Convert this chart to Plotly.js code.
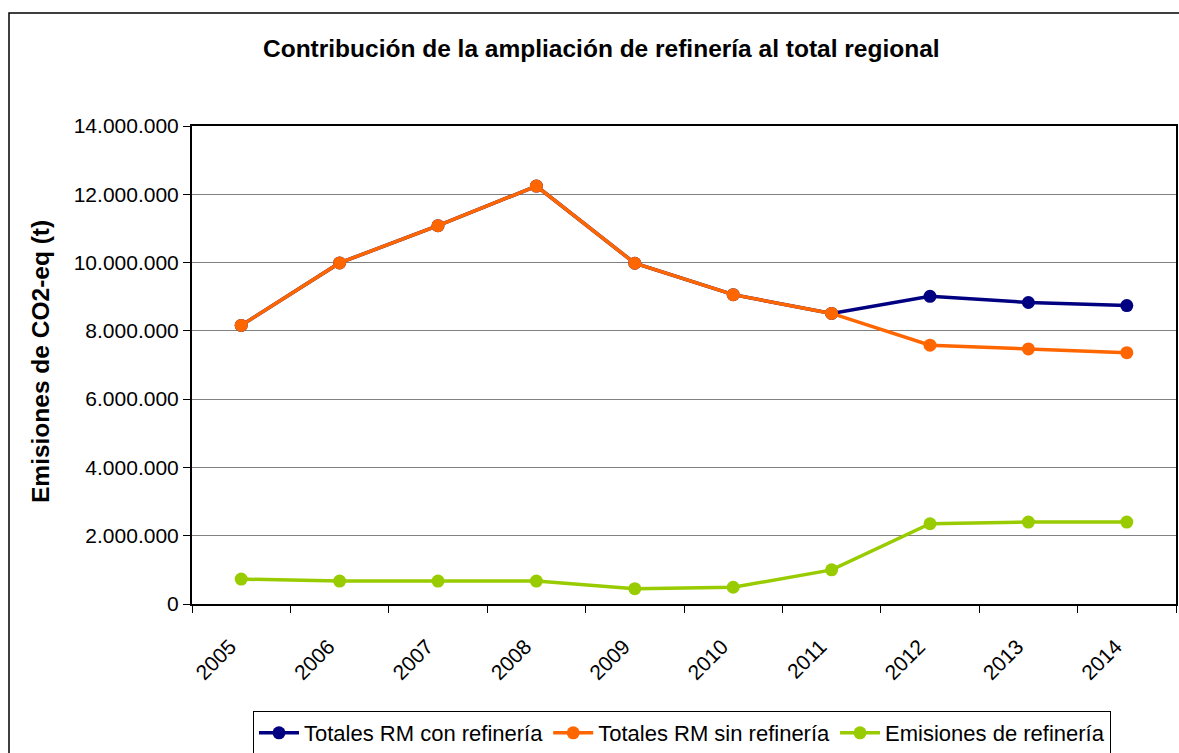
<!DOCTYPE html>
<html>
<head>
<meta charset="utf-8">
<script src="https://cdn.plot.ly/plotly-3.0.1.min.js"></script>
<style>html,body{margin:0;padding:0;background:#fff;}#chart{width:1179px;height:753px;}</style>
</head>
<body>
<div id="chart"></div>
<script>
const years = ["2005","2006","2007","2008","2009","2010","2011","2012","2013","2014"];
const conRefineria = [8160000, 9990000, 11080000, 12240000, 9980000, 9060000, 8510000, 9010000, 8830000, 8740000];
const sinRefineria = [8160000, 9990000, 11080000, 12240000, 9980000, 9060000, 8510000, 7580000, 7470000, 7360000];
const emisionesRefineria = [730000, 670000, 670000, 670000, 450000, 490000, 1000000, 2350000, 2400000, 2400000];
const seriesNames = ["Totales RM con refinería", "Totales RM sin refinería", "Emisiones de refinería"];
const seriesColors = ["#000080", "#FF6600", "#99CC00"];
const chartTitle = "Contribución de la ampliación de refinería al total regional";
const yTitle = "Emisiones de CO2-eq (t)";

const W = 1179, H = 753;
const M = {l: 192, r: 3, t: 126, b: 149};
const pw = W - M.l - M.r, ph = H - M.t - M.b;
const px = v => (v - M.l) / pw;
const py = v => (H - M.b - v) / ph;

const font = "Liberation Sans, Arial, sans-serif";

function tr(name, ys, color) {
  return {
    type: "scatter", mode: "lines+markers", name: name,
    x: years, y: ys,
    line: {color: color, width: 3.5},
    marker: {color: color, size: 13}
  };
}

const data = [
  tr(seriesNames[0], conRefineria, seriesColors[0]),
  tr(seriesNames[1], sinRefineria, seriesColors[1]),
  tr(seriesNames[2], emisionesRefineria, seriesColors[2])
];

const layout = {
  width: W, height: H,
  margin: M,
  paper_bgcolor: "#fff", plot_bgcolor: "#fff",
  separators: ",.",
  font: {family: font, size: 21, color: "#000"},
  showlegend: true,
  legend: {
    orientation: "h", xref: "container", yref: "container",
    x: 253 / W, y: 1 - 711 / H, xanchor: "left", yanchor: "top",
    bordercolor: "#000", borderwidth: 1, bgcolor: "#fff",
    font: {family: font, size: 22, color: "#000"},
    itemwidth: 40, tracegroupgap: 0
  },
  xaxis: {
    type: "category",
    range: [-0.5, years.length - 0.5],
    tickangle: -45,
    tickson: "boundaries",
    ticks: "outside", ticklen: 7, tickcolor: "#000",
    ticklabelstandoff: 20,
    ticklabelshift: -11,
    automargin: false,
    showline: true, linecolor: "#000", linewidth: 2, mirror: true,
    showgrid: false, zeroline: false,
    tickfont: {family: font, size: 21, color: "#000"}
  },
  yaxis: {
    range: [0, 14000000],
    tickvals: [0, 2000000, 4000000, 6000000, 8000000, 10000000, 12000000, 14000000],
    tickformat: ",d",
    automargin: false,
    ticks: "outside", ticklen: 7, tickcolor: "#000",
    showline: true, linecolor: "#000", linewidth: 2, mirror: true,
    showgrid: true, gridcolor: "#808080", gridwidth: 1,
    zeroline: false,
    tickfont: {family: font, size: 21, color: "#000"}
  },
  annotations: [
    {text: "<b>" + chartTitle + "</b>", xref: "paper", yref: "paper",
     x: px(601), y: py(49), xanchor: "center", yanchor: "middle", showarrow: false,
     font: {family: font, size: 24.5, color: "#000"}},
    {text: "<b>" + yTitle + "</b>", xref: "paper", yref: "paper", textangle: -90,
     x: px(40), y: py(362), xanchor: "center", yanchor: "middle", showarrow: false,
     font: {family: font, size: 24.5, color: "#000"}}
  ],
  shapes: [
    {type: "rect", xref: "paper", yref: "paper",
     x0: px(9), x1: px(1190), y0: py(13), y1: py(770),
     line: {color: "#000", width: 1.5}, layer: "below"}
  ]
};

Plotly.newPlot("chart", data, layout, {staticPlot: true, displayModeBar: false});
</script>
</body>
</html>
